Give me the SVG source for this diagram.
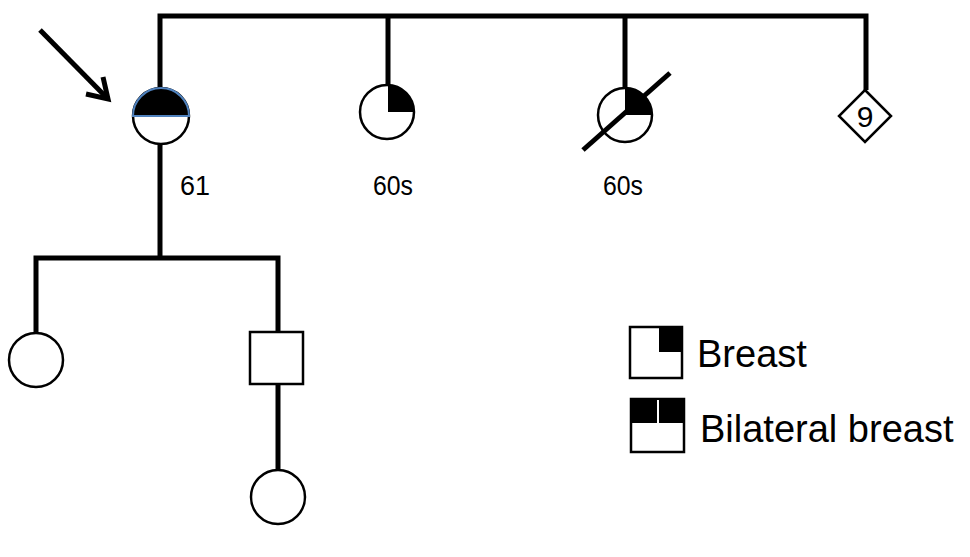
<svg xmlns="http://www.w3.org/2000/svg" width="970" height="557" viewBox="0 0 970 557">
<style>
.line{stroke:#000;stroke-width:5;fill:none;stroke-linecap:butt}
.sym{stroke:#000;stroke-width:2.5;fill:#fff}
.fill{fill:#000;stroke:none}
.lbl{font-family:"Liberation Sans",Arial,sans-serif;font-size:27px;fill:#000}
.leg{font-family:"Liberation Sans",Arial,sans-serif;font-size:38px;fill:#000}
</style>
<rect width="970" height="557" fill="#fff"/>
<g id="connectors">
<polyline class="line" points="160,88 160,16 866,16 866,90"/>
<line class="line" x1="388" y1="16" x2="388" y2="86"/>
<line class="line" x1="625" y1="16" x2="625" y2="88"/>
<line class="line" x1="160" y1="144" x2="160" y2="258"/>
<polyline class="line" points="36,334 36,258 278,258 278,332"/>
<line class="line" x1="278" y1="384" x2="278" y2="470"/>
</g>
<g id="arrow">
<line class="line" x1="40" y1="30" x2="107" y2="98"/>
<polyline class="line" points="86,94 108,99 103,77" stroke-linejoin="miter"/>
</g>
<g id="proband">
<circle class="sym" cx="161" cy="116" r="28"/>
<path d="M133,116 A28,28 0 0 1 189,116 Z" fill="#000" stroke="#4f81bd" stroke-width="2"/>
<text class="lbl" x="180" y="195" textLength="30" lengthAdjust="spacingAndGlyphs">61</text>
</g>
<g id="sister1">
<circle class="sym" cx="387" cy="112" r="27"/>
<path class="fill" d="M388,112 L388,85 A27,27 0 0 1 414,112 Z"/>
<text class="lbl" x="373" y="195" textLength="40" lengthAdjust="spacingAndGlyphs">60s</text>
</g>
<g id="sister2">
<circle class="sym" cx="625" cy="115" r="27"/>
<path class="fill" d="M625,115 L625,88 A27,27 0 0 1 652,115 Z"/>
<line class="line" x1="583" y1="150" x2="670" y2="73"/>
<text class="lbl" x="603" y="195" textLength="40" lengthAdjust="spacingAndGlyphs">60s</text>
</g>
<g id="siblings9">
<polygon class="sym" points="865,90 891,116 865,142 839,116"/>
<text class="lbl" x="865" y="127" text-anchor="middle" style="font-size:30px">9</text>
</g>
<g id="daughter">
<circle class="sym" cx="36" cy="360" r="27"/>
</g>
<g id="son">
<rect class="sym" x="250" y="332" width="53" height="52"/>
</g>
<g id="granddaughter">
<circle class="sym" cx="278" cy="497" r="27"/>
</g>
<g id="legend-breast">
<rect class="sym" x="630" y="327" width="52" height="51"/>
<rect class="fill" x="659" y="327" width="23" height="25"/>
<text class="leg" x="697" y="367">Breast</text>
</g>
<g id="legend-bilateral">
<rect class="sym" x="631" y="399" width="53" height="53"/>
<rect class="fill" x="631" y="399" width="53" height="24"/>
<line x1="658" y1="400" x2="658" y2="423" stroke="#fff" stroke-width="2"/>
<text class="leg" x="700" y="442">Bilateral breast</text>
</g>
</svg>
